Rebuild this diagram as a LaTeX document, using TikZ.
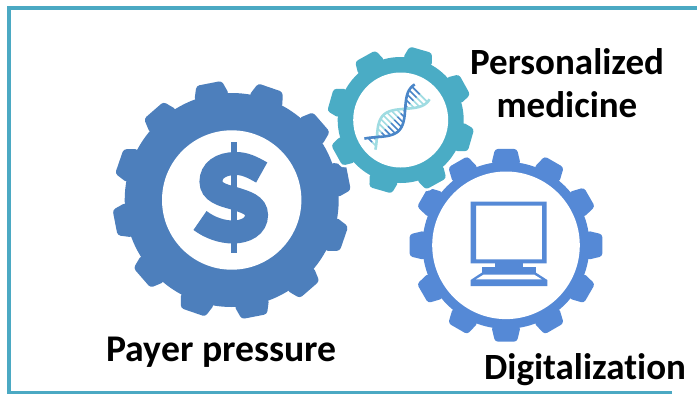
\documentclass[tikz,border=0pt]{standalone}
\usepackage{fontspec}
\setmainfont{Carlito}[Ligatures=NoCommon]
\definecolor{gearA}{HTML}{4D7FBC}
\definecolor{gearB}{HTML}{4AACC5}
\definecolor{gearC}{HTML}{5589D6}
\definecolor{frameC}{HTML}{4BA9C3}
\definecolor{helixD}{HTML}{4A86C8}
\definecolor{helixL}{HTML}{9FDCE2}
\tikzset{
  label text/.style={font=\bfseries\fontsize{37}{40}\selectfont,text=black,inner sep=0pt,anchor=base,align=center},
  frame line/.style={frameC,line width=3.4pt},
}
% cx cy rbody rout n offset halfbase halftip style
\newcommand{\gearshape}[9]{%
  \foreach \k in {1,...,#5}{%
    \pgfmathsetmacro{\a}{#6+360/#5*\k}%
    \path[#9,rounded corners=3pt]
      ({#1+(#3-1)*cos(\a-#7)},{#2-(#3-1)*sin(\a-#7)}) --
      ({#1+#4*cos(\a-#8)},{#2-#4*sin(\a-#8)}) --
      ({#1+#4*cos(\a+#8)},{#2-#4*sin(\a+#8)}) --
      ({#1+(#3-1)*cos(\a+#7)},{#2-(#3-1)*sin(\a+#7)}) -- cycle;
  }%
  \path[#9] (#1,#2) circle[radius=#3];
}
\begin{document}
\begin{tikzpicture}[x=1pt,y=-1pt]
\useasboundingbox (0,0) rectangle (697,394);
\fill[white] (0,0) rectangle (697,394);
% frame
\draw[frame line] (672,392.5) -- (9,392.5) -- (9,8) -- (697,8);
% gears
\gearshape{231.7}{200}{107}{119.5}{12}{11}{9.6}{6.2}{fill=gearA}
\gearshape{506}{245.3}{83.5}{97}{12}{0}{10.2}{6.5}{fill=gearC}
\gearshape{400.7}{120}{63}{74}{8}{29}{14}{9}{fill=white,draw=white,line width=5pt}
\gearshape{400.7}{120}{63}{74}{8}{29}{14}{9}{fill=gearB}
% holes
\fill[white] (231.7,200) circle[radius=69.7];
\fill[white] (506,245.3) circle[radius=73.8];
\fill[white] (400.7,120) circle[radius=47.5];
% dollar
\draw[gearA,line width=23pt] (261.7,172.5) .. controls (252,167) and (245,163.5) .. (236,163.5)
  .. controls (220,163.5) and (211,171) .. (211,181.5)
  .. controls (211,192) and (222,195) .. (233,198)
  .. controls (246,202) and (256.5,205) .. (256.5,215)
  .. controls (256.5,226) and (246,232) .. (233,232)
  .. controls (222,232) and (210,228) .. (200,220.5);
\fill[gearA] (231.3,141.7) rectangle (237.3,253.3);
% dna
\begin{scope}[shift={(396,118)},rotate=45]
  \foreach \t in {-34,-29.5,...,36}{
    \draw[helixL,line width=1.6pt] ({\t},0) -- ({\t},{-11*sin(4.5*(\t+27))});
    \draw[helixD,line width=1.6pt] ({\t},0) -- ({\t},{11*sin(4.5*(\t+27))});
  }
  \draw[helixL,line width=2.6pt,domain=-37:37,samples=50,smooth] plot ({\x},{-11*sin(4.5*(\x+27))});
  \draw[helixD,line width=2.6pt,domain=-37:37,samples=50,smooth] plot ({\x},{11*sin(4.5*(\x+27))});
\end{scope}
% monitor
\fill[gearC,even odd rule] (470.7,201.7) rectangle (546.7,263.3) (476,205.7) rectangle (542,259.3);
\fill[gearC] (495,263) rectangle (523.3,267.5);
\fill[gearC] (481.7,272.7) -- (536,272.7) -- (547.3,280) -- (547.3,286) -- (470.7,286) -- (470.7,280) -- cycle;
\fill[white] (483.5,274.7) -- (534.3,274.7) -- (541.7,279.3) -- (476,279.3) -- cycle;
\fill[gearC] (481.7,267) rectangle (536,273);
% labels
\node[label text] (personalized) at (567,74) {Personalized};
\node[label text] (medicine) at (567,117) {medicine};
\node[label text,font=\bfseries\fontsize{37.7}{40}\selectfont] (payer) at (221.5,361) {Payer pressure};
\node[label text] (digital) at (585,379) {Digitalization};
\end{tikzpicture}
\end{document}
